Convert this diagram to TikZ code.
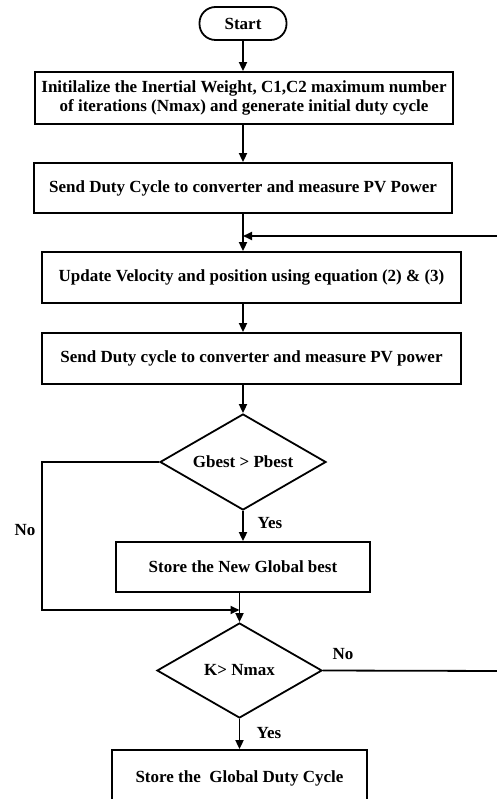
\documentclass[tikz,border=0pt]{standalone}
\usepackage{fontspec}
\setmainfont{Liberation Serif}
\usetikzlibrary{shapes.geometric,arrows.meta}
\tikzset{
  every node/.style={font=\fontsize{17}{19}\selectfont\bfseries},
  line/.style={line width=1.8pt,draw=black},
  arr/.style={line, -{Triangle[length=9pt,width=8pt]}},
  box/.style={draw, line width=1.8pt, rectangle, inner sep=0pt, align=center},
  dec/.style={draw, line width=1.8pt, diamond, inner sep=0pt, aspect=1.7},
  lbl/.style={inner sep=0pt}
}
\begin{document}
\begin{tikzpicture}[x=1pt,y=-1pt]
\useasboundingbox (0,0) rectangle (497,799);
\clip (0,0) rectangle (497,799);
\node[box, rounded corners=16pt, minimum width=87pt, minimum height=33pt] (start) at (243,23.5) {Start};
\node[box, minimum width=418pt, minimum height=52pt] (b1) at (244,98)
  {Initilalize the Inertial Weight, C1,C2 maximum number\\of iterations (Nmax) and generate initial duty cycle};
\node[box, minimum width=418pt, minimum height=50pt] (b2) at (243,188) {Send Duty Cycle to converter and measure PV Power};
\node[box, minimum width=419pt, minimum height=51pt] (b3) at (251.5,277.5) {Update Velocity and position using equation (2) \& (3)};
\node[box, minimum width=419pt, minimum height=51pt] (b4) at (251.5,358.5) {Send Duty cycle to converter and measure PV power};
\node[dec, minimum width=166pt, minimum height=96pt] (d1) at (243,462) {Gbest > Pbest};
\node[box, minimum width=254pt, minimum height=50pt] (b5) at (243,567) {Store the New Global best};
\node[dec, minimum width=165pt, minimum height=95pt] (d2) at (239.5,670.5) {K> Nmax};
\node[box, minimum width=255pt, minimum height=56pt] (b6) at (239.5,778) {Store the~ Global Duty Cycle};

\coordinate (j1) at (243,236);
\coordinate (m) at (239.5,610);
\coordinate (r1) at (505,671);
\coordinate (r2) at (505,236);
\coordinate (l1) at (42,462);
\coordinate (l2) at (42,610);

\draw[arr] (start.south) -- (start.south |- b1.north);
\draw[arr] (b1.south -| start.south) -- (start.south |- b2.north);
\draw[arr] (b2.south -| j1) -- (b3.north -| j1);
\draw[arr] (b3.south -| j1) -- (b4.north -| j1);
\draw[arr] (b4.south -| d1) -- (d1.north);
\draw[arr] (d1.south) -- (b5.north -| d1);
\draw[arr] (d1.west) -- (l1) -- (l2) -- (m);
\draw[arr] (b5.south -| d2) -- (d2.north);
\draw[arr] (d2.south) -- (b6.north -| d2);
\draw[arr] (d2.east) -- (r1) -- (r2) -- (j1);

\node[lbl] (no1) at (25,530) {No};
\node[lbl] (yes1) at (270,523) {Yes};
\node[lbl] (no2) at (343,654) {No};
\node[lbl] (yes2) at (269,733) {Yes};
\end{tikzpicture}
\end{document}
